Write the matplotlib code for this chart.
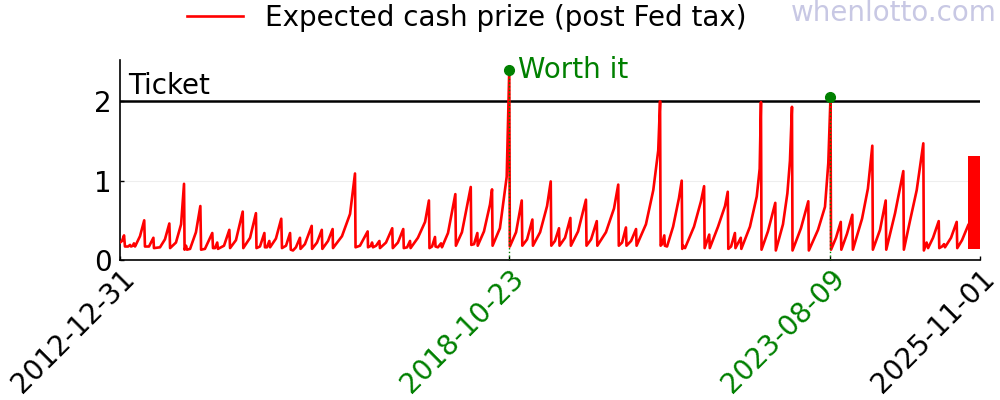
import pandas as pd
import matplotlib
matplotlib.use("Agg")
import matplotlib.pyplot as plt

FIRST_DRAW = "2012-12-31"
LAST_DAY = "2025-11-01"
TICKET_PRICE = 2.0

# days after the first draw and expected cash prize of one ticket (post Fed tax)
prize_day = [
    0, 11, 22, 27, 44, 55, 60, 71, 76, 82, 109, 132, 136, 158, 182, 185,
    218, 245, 269, 273, 305, 333, 349, 352, 360, 365, 382, 414, 438, 442,
    463, 503, 507, 518, 530, 534, 567, 596, 600, 632, 669, 672, 709, 741,
    744, 763, 787, 790, 801, 814, 818, 850, 879, 883, 905, 927, 931, 943,
    959, 981, 984, 1008, 1045, 1047, 1074, 1100, 1103, 1134, 1159, 1161,
    1210, 1254, 1281, 1284, 1308, 1350, 1352, 1368, 1374, 1379, 1396, 1414,
    1417, 1450, 1484, 1487, 1515, 1544, 1547, 1565, 1581, 1584, 1624, 1663,
    1684, 1687, 1701, 1717, 1720, 1733, 1750, 1755, 1788, 1828, 1831, 1864,
    1912, 1915, 1930, 1948, 1950, 1984, 2017, 2028, 2031, 2071, 2108, 2122,
    2125, 2159, 2190, 2193, 2219, 2248, 2251, 2290, 2328, 2348, 2351, 2371,
    2393, 2396, 2426, 2455, 2458, 2497, 2540, 2543, 2568, 2599, 2602, 2649,
    2693, 2716, 2719, 2737, 2758, 2761, 2786, 2813, 2816, 2867, 2907, 2934,
    2944, 2947, 2955, 2967, 2970, 2982, 3015, 3047, 3062, 3065, 3069, 3080,
    3129, 3167, 3184, 3187, 3212, 3215, 3260, 3298, 3313, 3316, 3331, 3352,
    3355, 3384, 3387, 3434, 3471, 3487, 3494, 3497, 3532, 3572, 3575, 3614,
    3638, 3652, 3663, 3666, 3712, 3752, 3755, 3805, 3843, 3861, 3873, 3876,
    3903, 3929, 3932, 3963, 3992, 3995, 4045, 4077, 4101, 4104, 4143, 4174,
    4177, 4225, 4270, 4273, 4307, 4343, 4379, 4382, 4397, 4405, 4432, 4463,
    4466, 4481, 4492, 4497, 4530, 4561, 4564, 4590, 4624,
]
prize_value = [
    0.22, 0.24, 0.31, 0.17, 0.17, 0.19, 0.17, 0.18, 0.21, 0.17, 0.30, 0.50, 0.17, 0.17, 0.28, 0.15,
    0.16, 0.26, 0.46, 0.15, 0.22, 0.45, 0.96, 0.13, 0.18, 0.13, 0.14, 0.35, 0.68, 0.13,
    0.14, 0.34, 0.15, 0.15, 0.22, 0.14, 0.18, 0.38, 0.15, 0.25, 0.61, 0.15, 0.28, 0.59,
    0.15, 0.17, 0.34, 0.16, 0.16, 0.24, 0.16, 0.27, 0.52, 0.15, 0.18, 0.34, 0.13, 0.12,
    0.16, 0.28, 0.14, 0.20, 0.43, 0.14, 0.22, 0.38, 0.14, 0.24, 0.39, 0.15,
    0.30, 0.58, 1.09, 0.16, 0.18, 0.36, 0.16, 0.18, 0.22, 0.16, 0.18, 0.24,
    0.15, 0.22, 0.40, 0.15, 0.22, 0.39, 0.15, 0.16, 0.24, 0.15, 0.28, 0.48,
    0.75, 0.15, 0.17, 0.29, 0.17, 0.16, 0.21, 0.16, 0.34, 0.83, 0.18, 0.35,
    0.92, 0.19, 0.20, 0.34, 0.18, 0.36, 0.70, 0.89, 0.18, 0.40, 1.05, 2.40,
    0.17, 0.35, 0.75, 0.18, 0.26, 0.51, 0.18, 0.35, 0.68, 0.99, 0.18, 0.24,
    0.40, 0.18, 0.28, 0.53, 0.18, 0.36, 0.76, 0.18, 0.26, 0.49, 0.18, 0.35,
    0.65, 0.95, 0.18, 0.22, 0.41, 0.18, 0.24, 0.39, 0.18, 0.45, 0.88, 1.38,
    2.00, 0.18, 0.20, 0.31, 0.18, 0.17, 0.42, 0.78, 1.00, 0.14, 0.18, 0.15,
    0.42, 0.74, 0.93, 0.15, 0.32, 0.15, 0.42, 0.68, 0.86, 0.14, 0.17, 0.34,
    0.15, 0.28, 0.14, 0.42, 0.80, 1.15, 1.99, 0.13, 0.36, 0.72, 0.12, 0.45,
    0.84, 1.25, 1.93, 0.12, 0.40, 0.74, 0.12, 0.38, 0.67, 1.22, 2.05, 0.13,
    0.28, 0.48, 0.13, 0.33, 0.57, 0.13, 0.52, 0.90, 1.44, 0.13, 0.38, 0.75,
    0.13, 0.59, 1.12, 0.13, 0.50, 0.88, 1.47, 0.12, 0.22, 0.15, 0.28, 0.49,
    0.15, 0.17, 0.20, 0.16, 0.28, 0.48, 0.15, 0.25, 0.44,
]

# draws where the expected prize beat the ticket price
worth_it_dates = ["2018-10-23", "2023-08-09"]
worth_it_values = [2.40, 2.05]

# last weeks: the prize swings so fast it shows as a solid band
tail_dates = ["2025-08-29", LAST_DAY]
tail_low = 0.14
tail_high = 1.31

tick_dates = [FIRST_DRAW, "2018-10-23", "2023-08-09", LAST_DAY]
tick_colors = ["black", "green", "green", "black"]

prize_dates = pd.Timestamp(FIRST_DRAW) + pd.to_timedelta(prize_day, unit="D")
worth_dates = pd.to_datetime(worth_it_dates)
tail = pd.to_datetime(tail_dates)

plt.rcParams["font.family"] = ["DejaVu Sans"]
plt.rcParams["font.size"] = 20

fig = plt.figure(figsize=(10, 4), dpi=100)
ax = fig.add_axes([0.12, 0.35, 0.86, 0.50])

ax.plot(prize_dates, prize_value, color="red", lw=1.9,
        label="Expected cash prize (post Fed tax)", zorder=3)
ax.fill_between(tail, tail_low, tail_high, color="red", lw=0, zorder=3)

ax.axhline(TICKET_PRICE, color="black", lw=1.8, zorder=2)
ax.annotate("Ticket", xy=(pd.Timestamp(FIRST_DRAW), TICKET_PRICE), xytext=(6, 1),
            textcoords="offset points", va="bottom", ha="left")

ax.vlines(worth_dates, 0, worth_it_values, colors="green", linestyles=":", lw=1, zorder=4)
ax.plot(worth_dates, worth_it_values, "o", color="green", ms=7, zorder=5)
ax.annotate("Worth it", xy=(worth_dates[0], worth_it_values[0]), xytext=(6, 0),
            textcoords="offset points", va="center", ha="left", color="green")

ax.set_xlim(pd.Timestamp(FIRST_DRAW), pd.Timestamp(LAST_DAY))
ax.set_ylim(0, 2.52)
ax.set_yticks([0, 1, 2])
ax.set_xticks(pd.to_datetime(tick_dates))
ax.set_xticklabels(tick_dates, rotation=45, ha="right", va="top",
                   rotation_mode="anchor")
for lbl, c in zip(ax.get_xticklabels(), tick_colors):
    lbl.set_color(c)
ax.tick_params(direction="in", length=3, width=1)
ax.tick_params(axis="x", pad=3)
ax.tick_params(axis="y", pad=6)
ax.yaxis.grid(True, color="#eeeeee", lw=0.8, zorder=0)
ax.set_axisbelow(True)

for side in ("top", "right"):
    ax.spines[side].set_visible(False)
for side in ("left", "bottom"):
    ax.spines[side].set_linewidth(1.2)

fig.legend(loc="center", bbox_to_anchor=(0.467, 0.955), frameon=False,
           handlelength=2, handletextpad=0.8)
fig.text(0.997, 0.967, "whenlotto.com", ha="right", va="center", color="#c8c8e4")

fig.savefig("out.png")
